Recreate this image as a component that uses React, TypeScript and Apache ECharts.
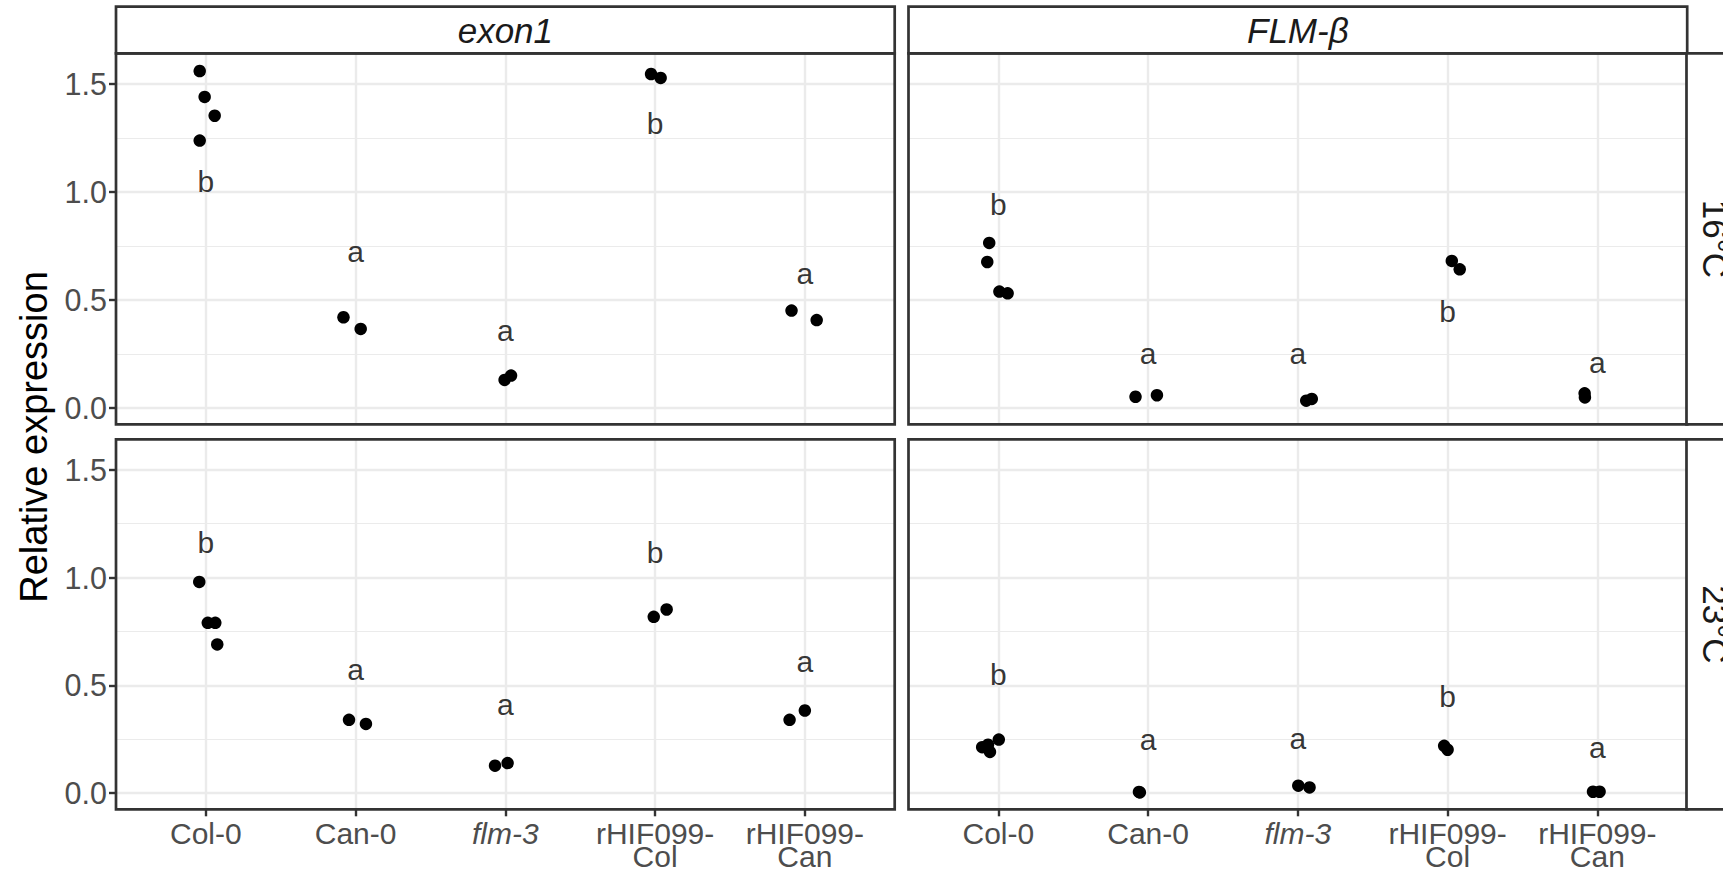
import React, { useEffect, useRef } from "react";
import * as echarts from "echarts";

// ---------- data ----------
const categories = ["Col-0", "Can-0", "flm-3", "rHIF099-\nCol", "rHIF099-\nCan"];
const italicCategory = [false, false, true, false, false];
const genes = ["exon1", "FLM-β"];
const temps = ["16°C", "23°C"];
const yTicks = [0, 0.5, 1.0, 1.5];
const yMinorTicks = [0.25, 0.75, 1.25];
const yRange = [-0.0755, 1.642];
const xRange = [-0.6, 4.6];
const yTitle = "Relative expression";

// exon1, 16°C
const exon1_16_values = [[1.56, 1.44, 1.353, 1.238], [0.42, 0.366], [0.13, 0.15], [1.546, 1.528], [0.451, 0.407]];
const exon1_16_jitter = [[-0.041, -0.008, 0.059, -0.041], [-0.081, 0.034], [-0.005, 0.038], [-0.027, 0.037], [-0.089, 0.079]];
const exon1_16_letters = ["b", "a", "a", "b", "a"];
const exon1_16_letterY = [1.049, 0.725, 0.358, 1.315, 0.623];

// FLM-β, 16°C
const flmb_16_values = [[0.764, 0.676, 0.539, 0.531], [0.052, 0.059], [0.034, 0.042], [0.681, 0.642], [0.068, 0.049]];
const flmb_16_jitter = [[-0.061, -0.074, 0.007, 0.062], [-0.084, 0.059], [0.056, 0.093], [0.028, 0.081], [-0.085, -0.083]];
const flmb_16_letters = ["b", "a", "a", "b", "a"];
const flmb_16_letterY = [0.94, 0.25, 0.253, 0.446, 0.211];

// exon1, 23°C
const exon1_23_values = [[0.98, 0.79, 0.79, 0.69], [0.34, 0.321], [0.127, 0.139], [0.818, 0.852], [0.34, 0.383]];
const exon1_23_jitter = [[-0.044, 0.013, 0.063, 0.076], [-0.044, 0.069], [-0.069, 0.015], [-0.009, 0.077], [-0.102, 0.0]];
const exon1_23_letters = ["b", "a", "a", "b", "a"];
const exon1_23_letterY = [1.165, 0.575, 0.41, 1.116, 0.609];

// FLM-β, 23°C
const flmb_23_values = [[0.213, 0.224, 0.191, 0.248], [0.005, 0.003], [0.034, 0.026], [0.219, 0.201], [0.006, 0.006]];
const flmb_23_jitter = [[-0.108, -0.069, -0.056, 0.003], [-0.061, -0.055], [0.003, 0.078], [-0.023, 0.0], [-0.029, 0.015]];
const flmb_23_letters = ["b", "a", "a", "b", "a"];
const flmb_23_letterY = [0.548, 0.247, 0.251, 0.448, 0.213];

const panels = [
  { row: 0, col: 0, values: exon1_16_values, jitter: exon1_16_jitter, letters: exon1_16_letters, letterY: exon1_16_letterY },
  { row: 0, col: 1, values: flmb_16_values, jitter: flmb_16_jitter, letters: flmb_16_letters, letterY: flmb_16_letterY },
  { row: 1, col: 0, values: exon1_23_values, jitter: exon1_23_jitter, letters: exon1_23_letters, letterY: exon1_23_letterY },
  { row: 1, col: 1, values: flmb_23_values, jitter: flmb_23_jitter, letters: flmb_23_letters, letterY: flmb_23_letterY },
];

// ---------- layout ----------
const W = 1723;
const H = 876;
const panelLeft = [116, 908.5];
const panelTop = [53.3, 439.3];
const panelW = 778.7;
const panelH = [371, 370];
const stripTop = 6.7;
const rightStripX = 1686.5;
const FONT = "'Liberation Sans', Arial, Helvetica, sans-serif";
const BORDER = "#333333";
const GRID = "#EBEBEB";
const AXIS_TEXT = "#4D4D4D";

export default function App() {
  const ref = useRef<HTMLDivElement>(null);

  useEffect(() => {
    if (!ref.current) return;
    const chart = echarts.init(ref.current, undefined, { renderer: "svg" });
    const catIdx = categories.map((_, i) => i);

    const grids: any[] = [];
    const xAxes: any[] = [];
    const yAxes: any[] = [];
    const series: any[] = [];
    const graphics: any[] = [];

    panels.forEach((p, i) => {
      grids.push({
        left: panelLeft[p.col],
        top: panelTop[p.row],
        width: panelW,
        height: panelH[p.row],
        show: false,
      });
      xAxes.push({
        type: "value",
        gridIndex: i,
        position: "bottom",
        min: xRange[0],
        max: xRange[1],
        axisLine: { show: false, onZero: false },
        axisTick: {
          show: p.row === 1,
          customValues: catIdx,
          length: 7,
          lineStyle: { color: BORDER, width: 2.4 },
        },
        axisLabel: {
          show: p.row === 1,
          customValues: catIdx,
          margin: 12,
          formatter: (v: number) => {
            const k = Math.round(v);
            const tag = italicCategory[k] ? "it" : "n";
            return categories[k]
              .split("\n")
              .map((s) => `{${tag}|${s}}`)
              .join("\n");
          },
          rich: {
            n: { fontSize: 30, lineHeight: 23.4, color: AXIS_TEXT, fontFamily: FONT },
            it: { fontSize: 30, lineHeight: 23.4, color: AXIS_TEXT, fontFamily: FONT, fontStyle: "italic" },
          },
        },
        splitLine: { show: true, lineStyle: { color: GRID, width: 2.4 } },
      });
      yAxes.push({
        type: "value",
        gridIndex: i,
        position: "left",
        min: yRange[0],
        max: yRange[1],
        axisLine: { show: false, onZero: false },
        axisTick: {
          show: p.col === 0,
          customValues: yTicks,
          length: 7,
          lineStyle: { color: BORDER, width: 2.4 },
        },
        axisLabel: {
          show: p.col === 0,
          customValues: yTicks,
          margin: 9,
          fontSize: 30.5,
          color: AXIS_TEXT,
          fontFamily: FONT,
          formatter: (v: number) => v.toFixed(1),
        },
        splitLine: { show: true, lineStyle: { color: GRID, width: 2.4 } },
      });
      yAxes.push({
        type: "value",
        gridIndex: i,
        position: "left",
        min: yRange[0],
        max: yRange[1],
        axisLine: { show: false, onZero: false },
        axisTick: { show: false, customValues: yMinorTicks },
        axisLabel: { show: false, customValues: yMinorTicks },
        splitLine: { show: true, lineStyle: { color: GRID, width: 1.2 } },
      });

      const pts: number[][] = [];
      p.values.forEach((grp, c) => {
        grp.forEach((v, j) => pts.push([c + p.jitter[c][j], v]));
      });
      series.push({
        type: "scatter",
        xAxisIndex: i,
        yAxisIndex: 2 * i,
        data: pts,
        symbol: "circle",
        symbolSize: 12.5,
        itemStyle: { color: "#000000", opacity: 1 },
        z: 3,
        silent: true,
      });
      series.push({
        type: "scatter",
        xAxisIndex: i,
        yAxisIndex: 2 * i,
        data: p.letters.map((l, c) => ({ value: [c, p.letterY[c]], name: l })),
        symbol: "circle",
        symbolSize: 1,
        itemStyle: { color: "rgba(0,0,0,0)" },
        label: {
          show: true,
          position: "inside",
          formatter: (prm: any) => prm.name,
          fontSize: 30,
          color: "#000000",
          fontFamily: FONT,
        },
        z: 4,
        silent: true,
      });

      // panel border
      graphics.push({
        type: "rect",
        z: 100,
        shape: { x: panelLeft[p.col], y: panelTop[p.row], width: panelW, height: panelH[p.row] },
        style: { fill: "none", stroke: BORDER, lineWidth: 2.7 },
        silent: true,
      });
    });

    // top strips
    genes.forEach((g, c) => {
      graphics.push({
        type: "rect",
        z: 100,
        shape: { x: panelLeft[c], y: stripTop, width: panelW, height: panelTop[0] - stripTop },
        style: { fill: "#ffffff", stroke: BORDER, lineWidth: 2.7 },
        silent: true,
      });
      graphics.push({
        type: "text",
        z: 101,
        x: panelLeft[c] + panelW / 2,
        y: (stripTop + panelTop[0]) / 2,
        style: {
          text: g,
          fontSize: 35,
          fontStyle: "italic",
          fontFamily: FONT,
          fill: "#1A1A1A",
          textAlign: "center",
          textVerticalAlign: "middle",
        },
        silent: true,
      });
    });

    // right strips
    temps.forEach((t, r) => {
      graphics.push({
        type: "rect",
        z: 100,
        shape: { x: rightStripX, y: panelTop[r], width: 90, height: panelH[r] },
        style: { fill: "#ffffff", stroke: BORDER, lineWidth: 2.7 },
        silent: true,
      });
      graphics.push({
        type: "text",
        z: 101,
        x: 1715,
        y: panelTop[r] + panelH[r] / 2,
        rotation: -Math.PI / 2,
        style: {
          text: t,
          fontSize: 35,
          fontFamily: FONT,
          fill: "#1A1A1A",
          textAlign: "center",
          textVerticalAlign: "middle",
        },
        silent: true,
      });
    });

    // y axis title
    graphics.push({
      type: "text",
      z: 101,
      x: 33.5,
      y: 437,
      rotation: Math.PI / 2,
      style: {
        text: yTitle,
        fontSize: 38,
        fontFamily: FONT,
        fill: "#000000",
        textAlign: "center",
        textVerticalAlign: "middle",
      },
      silent: true,
    });

    chart.setOption({
      animation: false,
      backgroundColor: "#ffffff",
      textStyle: { fontFamily: FONT },
      grid: grids,
      xAxis: xAxes,
      yAxis: yAxes,
      series,
      graphic: { elements: graphics },
    });

    return () => chart.dispose();
  }, []);

  return (
    <div
      ref={ref}
      style={{ position: "fixed", left: 0, top: 0, width: W, height: H, background: "#fff" }}
    />
  );
}
